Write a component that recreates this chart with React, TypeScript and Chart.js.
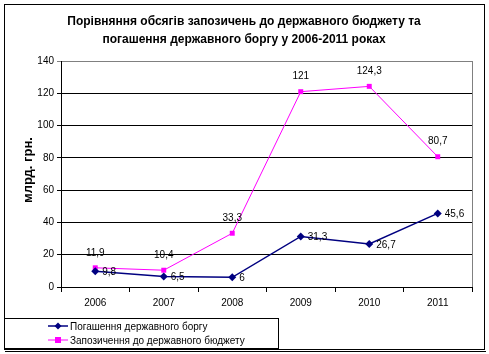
import React, { useEffect, useRef } from "react";
import { Chart, registerables } from "chart.js";

Chart.register(...registerables);

const titleLines = ["Порівняння обсягів запозичень до державного бюджету та", "погашення державного боргу у 2006-2011 роках"];
const yTitle = "млрд. грн.";
const years = ["2006", "2007", "2008", "2009", "2010", "2011"];
const debtLabel = "Погашення державного боргу";
const debtValues = [9.8, 6.5, 6, 31.3, 26.7, 45.6];
const borrowLabel = "Запозичення до державного бюджету";
const borrowValues = [11.9, 10.4, 33.3, 121, 124.3, 80.7];
const yTicks = [0, 20, 40, 60, 80, 100, 120, 140];

const FONT = "'Liberation Sans', Arial, sans-serif";
const fmt = (v: number) => String(v).replace(".", ",");

const decorPlugin = {
  id: "decor",
  beforeDraw(chart: any) {
    const ctx = chart.ctx;
    ctx.save();
    ctx.fillStyle = "#ffffff";
    ctx.fillRect(0, 0, chart.width, chart.height);
    ctx.restore();
  },
  afterDraw(chart: any) {
    const ctx = chart.ctx;
    const ca = chart.chartArea;
    ctx.save();
    // outer border
    ctx.strokeStyle = "#000";
    ctx.lineWidth = 1;
    ctx.strokeRect(4.5, 4.5, 480, 345);
    ctx.beginPath();
    ctx.moveTo(5, 351.5);
    ctx.lineTo(486, 351.5);
    ctx.stroke();
    // plot right border
    ctx.strokeStyle = "#808080";
    ctx.beginPath();
    ctx.moveTo(Math.round(ca.right) + 0.5, ca.top);
    ctx.lineTo(Math.round(ca.right) + 0.5, ca.bottom);
    ctx.stroke();
    // title
    ctx.fillStyle = "#000";
    ctx.font = "bold 12px " + FONT;
    ctx.textAlign = "center";
    ctx.textBaseline = "middle";
    ctx.fillText(titleLines[0], 244, 22);
    ctx.fillText(titleLines[1], 244, 40);
    // y title
    ctx.save();
    ctx.translate(28, 170);
    ctx.rotate(-Math.PI / 2);
    ctx.font = "bold 13px " + FONT;
    ctx.fillText(yTitle, 0, 0);
    ctx.restore();
    // data labels
    ctx.font = "10px " + FONT;
    chart.data.datasets.forEach((ds: any, di: number) => {
      const meta = chart.getDatasetMeta(di);
      meta.data.forEach((pt: any, i: number) => {
        const v = ds.data[i];
        if (di === 0) {
          ctx.textAlign = "left";
          ctx.fillText(fmt(v), pt.x + 7, pt.y + 1);
        } else {
          ctx.textAlign = "center";
          ctx.fillText(fmt(v), pt.x, pt.y - 15);
        }
      });
    });
    // legend
    ctx.strokeStyle = "#000";
    ctx.strokeRect(4.5, 318.5, 274, 30);
    ctx.textAlign = "left";
    ctx.font = "10px " + FONT;
    const rows = [
      { ds: chart.data.datasets[0], y: 326 },
      { ds: chart.data.datasets[1], y: 340 },
    ];
    rows.forEach((r, idx) => {
      ctx.strokeStyle = r.ds.borderColor;
      ctx.lineWidth = r.ds.borderWidth;
      ctx.beginPath();
      ctx.moveTo(48, r.y);
      ctx.lineTo(68, r.y);
      ctx.stroke();
      ctx.fillStyle = r.ds.borderColor;
      if (idx === 0) {
        ctx.beginPath();
        ctx.moveTo(58, r.y - 3.5);
        ctx.lineTo(61.5, r.y);
        ctx.lineTo(58, r.y + 3.5);
        ctx.lineTo(54.5, r.y);
        ctx.closePath();
        ctx.fill();
      } else {
        ctx.fillRect(55, r.y - 3, 6, 6);
      }
      ctx.fillStyle = "#000";
      ctx.fillText(r.ds.label, 70, r.y + 1);
    });
    ctx.restore();
  },
};

export default function App() {
  const ref = useRef<HTMLCanvasElement>(null);
  useEffect(() => {
    if (!ref.current) return;
    const chart = new Chart(ref.current, {
      type: "line",
      data: {
        labels: years,
        datasets: [
          {
            label: debtLabel,
            data: debtValues,
            borderColor: "#000080",
            backgroundColor: "#000080",
            borderWidth: 1.5,
            pointStyle: "rectRot",
            pointRadius: 4,
            pointBorderWidth: 0,
            tension: 0,
          },
          {
            label: borrowLabel,
            data: borrowValues,
            borderColor: "#FF00FF",
            backgroundColor: "#FF00FF",
            borderWidth: 1,
            pointStyle: "rect",
            pointRadius: 3.5,
            pointBorderWidth: 0,
            tension: 0,
          },
        ],
      },
      options: {
        animation: false,
        responsive: false,
        devicePixelRatio: 1,
        layout: { padding: { left: 0, right: 17, top: 61, bottom: 37 } },
        plugins: { legend: { display: false }, title: { display: false }, tooltip: { enabled: false } },
        scales: {
          x: {
            offset: true,
            afterFit: (s: any) => { s.height = 30; },
            grid: { offset: true, drawOnChartArea: false, color: "#000", tickLength: 5 },
            border: { color: "#000" },
            ticks: { color: "#000", font: { family: FONT, size: 10 }, padding: 5 },
          },
          y: {
            min: 0,
            max: 140,
            afterFit: (s: any) => { s.width = 61; },
            afterBuildTicks: (s: any) => { s.ticks = yTicks.map((v) => ({ value: v })); },
            grid: {
              color: (c: any) => (c.tick && c.tick.value === 140 ? "#808080" : "#000"),
              tickLength: 4,
            },
            border: { color: "#000" },
            ticks: { color: "#000", font: { family: FONT, size: 10 }, padding: 3 },
          },
        },
      },
      plugins: [decorPlugin],
    } as any);
    return () => chart.destroy();
  }, []);
  return (
    <div style={{ position: "fixed", left: 0, top: 0, width: 489, height: 354 }}>
      <canvas ref={ref} width={489} height={354} style={{ width: 489, height: 354 }} />
    </div>
  );
}
